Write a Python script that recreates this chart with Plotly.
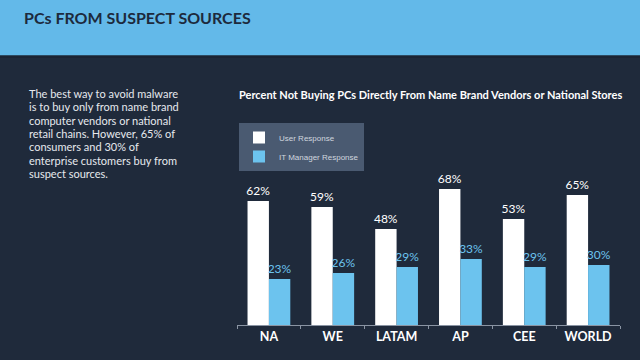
import plotly.graph_objects as go

regions = ["NA", "WE", "LATAM", "AP", "CEE", "WORLD"]
user_response = [62, 59, 48, 68, 53, 65]
it_manager_response = [23, 26, 29, 33, 29, 30]

intro_lines = [
    "The best way to avoid malware",
    "is to buy only from name brand",
    "computer vendors or national",
    "retail chains. However, 65% of",
    "consumers and 30% of",
    "enterprise customers buy from",
    "suspect sources.",
]

BG = "#1f2a3b"
HEADER = "#63b9e9"
WHITE = "#ffffff"
BLUE = "#6cc3ee"
FONT = "Lato"

W, H = 640, 360
ML, MR, MT, MB = 237, 20, 185, 35
PW, PH = W - ML - MR, H - MT - MB


def px(x):
    return (x - ML) / PW


def py(y):
    return (H - MB - y) / PH


fig = go.Figure()
fig.add_trace(go.Bar(
    name="User Response", x=regions, y=user_response,
    marker=dict(color=WHITE, line=dict(width=0)),
    text=[f"{v}%" for v in user_response], textposition="outside",
    textfont=dict(color=WHITE, size=12, family=FONT),
    constraintext="none", cliponaxis=False,
))
fig.add_trace(go.Bar(
    name="IT Manager Response", x=regions, y=it_manager_response,
    marker=dict(color=BLUE, line=dict(width=0)),
    text=[f"{v}%" for v in it_manager_response], textposition="outside",
    textfont=dict(color=BLUE, size=12, family=FONT),
    constraintext="none", cliponaxis=False,
))

shapes = [
    dict(type="rect", xref="paper", yref="paper", x0=px(0), x1=px(W), y0=py(55.5), y1=py(0),
         fillcolor=HEADER, line=dict(width=0), layer="below"),
    dict(type="rect", xref="paper", yref="paper", x0=px(0), x1=px(W), y0=py(58), y1=py(55.5),
         fillcolor="#1b2433", line=dict(width=0), layer="below"),
]

annotations = [
    dict(text="<b>PCs FROM SUSPECT SOURCES</b>", xref="paper", yref="paper",
         x=px(22), y=py(18), xanchor="left", yanchor="middle", showarrow=False,
         font=dict(family=FONT, size=16, color="#1d2a3d")),
    dict(text="<b>Percent Not Buying PCs Directly From Name Brand Vendors or National Stores</b>",
         xref="paper", yref="paper", x=px(430), y=py(94), xanchor="center", yanchor="middle",
         showarrow=False, font=dict(family=FONT, size=11, color=WHITE)),
]
for i, line in enumerate(intro_lines):
    annotations.append(dict(
        text=line, xref="paper", yref="paper", x=px(27), y=py(93.5 + i * 13.3),
        xanchor="left", yanchor="middle", align="left", showarrow=False,
        font=dict(family=FONT, size=11, color="#e6e9ee")))

fig.update_layout(
    width=W, height=H,
    margin=dict(l=ML, r=MR, t=MT, b=MB, pad=0),
    paper_bgcolor=BG, plot_bgcolor=BG,
    barmode="group", bargap=0.33, bargroupgap=0,
    showlegend=True,
    legend=dict(x=px(239), y=py(123), xanchor="left", yanchor="top",
                bgcolor="#4a5a71", borderwidth=0,
                font=dict(family="Liberation Sans", size=8, color="#d0d6df"),
                itemwidth=30, tracegroupgap=0),
    xaxis=dict(showline=True, linecolor="#8a94a3", linewidth=1,
               ticks="outside", tickson="boundaries", ticklen=3, tickcolor="#8a94a3",
               tickfont=dict(family=FONT, size=12.5, color=WHITE),
               tickprefix="<b>", ticksuffix="</b>",
               showgrid=False, zeroline=False),
    yaxis=dict(range=[0, 70], visible=False, showgrid=False, zeroline=False),
    shapes=shapes, annotations=annotations,
    font=dict(family=FONT),
)

fig.write_html("out.html", config={"displayModeBar": False},
               post_script="document.body.style.margin='0';document.body.style.overflow='hidden';")
